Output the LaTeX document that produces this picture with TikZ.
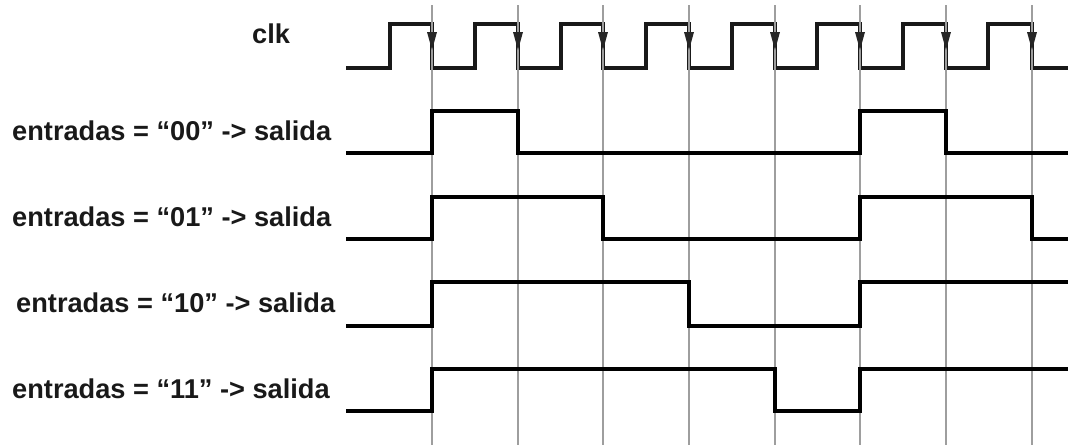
\documentclass[tikz,border=0pt]{standalone}
\usepackage{fontspec}
\setmainfont{Liberation Sans}
\begin{document}
\begin{tikzpicture}[x=1pt,y=-1pt,
  lbl/.style={anchor=base west,inner sep=0pt,font=\fontsize{27.2}{30}\selectfont\bfseries,text=black!90},
  sig/.style={line width=3.4pt,black,line join=miter},
  clkln/.style={line width=3.2pt,black!90},
  grid/.style={line width=2.2pt,black!38},
  tip/.style={fill=black!85}]
\useasboundingbox (0,0) rectangle (1068,445);
% clock
\draw[clkln] (346,68) -- (390,68) -- (390,24) -- (432,24) -- (432,68)
  -- (475,68) -- (475,24) -- (518,24) -- (518,68)
  -- (561,68) -- (561,24) -- (603,24) -- (603,68)
  -- (646,68) -- (646,24) -- (689,24) -- (689,68)
  -- (732,68) -- (732,24) -- (775,24) -- (775,68)
  -- (817,68) -- (817,24) -- (860,24) -- (860,68)
  -- (903,68) -- (903,24) -- (946,24) -- (946,68)
  -- (988,68) -- (988,24) -- (1032,24) -- (1032,68) -- (1068,68);
% grid lines and arrowheads
\foreach \x in {432,518,603,689,775,860,946,1032}{
  \draw[grid] (\x,5) -- (\x,445);
  \fill[tip] (\x-5,32) -- (\x+5,32) -- (\x,50) -- cycle;
}
% labels
\node[lbl] (clk) at (252,43) {clk};
\node[lbl] (l00) at (12,140) {entradas = “00” -> salida};
\node[lbl] (l01) at (12,226) {entradas = “01” -> salida};
\node[lbl] (l10) at (16,312) {entradas = “10” -> salida};
\node[lbl] (l11) at (12,398) {entradas = “11” -> salida};
% signals
\draw[sig] (346,153) -- (432,153) -- (432,111) -- (518,111) -- (518,153)
  -- (860,153) -- (860,111) -- (946,111) -- (946,153) -- (1068,153);
\draw[sig] (346,239) -- (432,239) -- (432,197) -- (603,197) -- (603,239)
  -- (860,239) -- (860,197) -- (1032,197) -- (1032,239) -- (1068,239);
\draw[sig] (346,326) -- (432,326) -- (432,282) -- (689,282) -- (689,326)
  -- (860,326) -- (860,282) -- (1068,282);
\draw[sig] (346,411) -- (432,411) -- (432,369) -- (775,369) -- (775,411)
  -- (860,411) -- (860,369) -- (1068,369);
\end{tikzpicture}
\end{document}
